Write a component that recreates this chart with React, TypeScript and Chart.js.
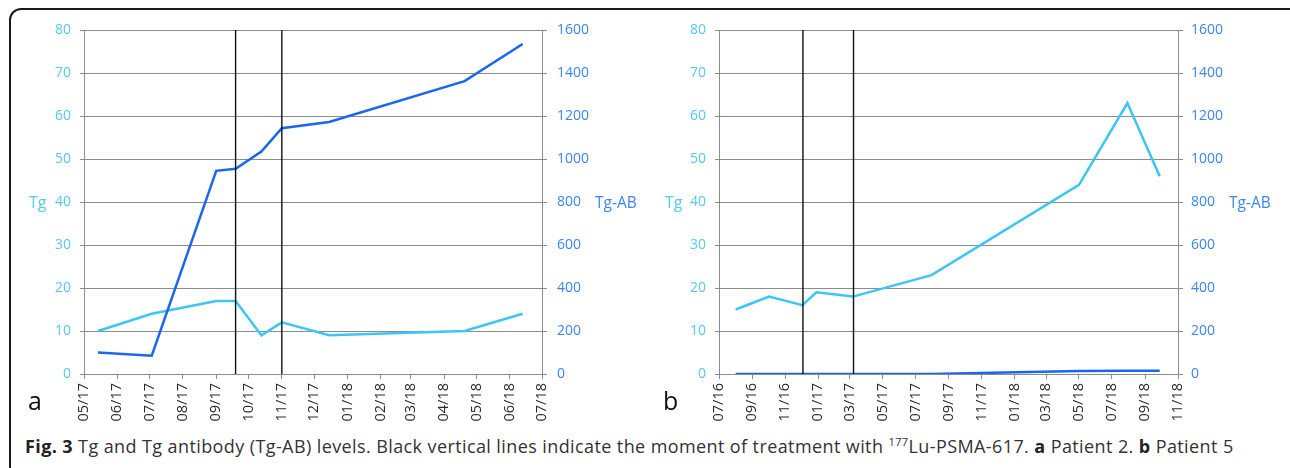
import React, { useEffect, useRef } from 'react';
import { Chart, registerables } from 'chart.js';

Chart.register(...registerables);

// ---------- Data: Patient 2 (panel a) ----------
const datesA = ['2017-05-14', '2017-07-03', '2017-09-01', '2017-09-19', '2017-10-13', '2017-11-01', '2017-12-15', '2018-04-20', '2018-06-13'];
const tgA = [10, 14, 17, 17, 9, 12, 9, 10, 14];
const tgabA = [100, 85, 945, 955, 1035, 1143, 1172, 1362, 1535];
const treatmentA = ['2017-09-19', '2017-11-01'];
const monthTicksA = ['2017-05', '2017-06', '2017-07', '2017-08', '2017-09', '2017-10', '2017-11', '2017-12', '2018-01', '2018-02', '2018-03', '2018-04', '2018-05', '2018-06', '2018-07'];

// ---------- Data: Patient 5 (panel b) ----------
const datesB = ['2016-08-01', '2016-10-02', '2016-12-03', '2016-12-29', '2017-03-07', '2017-07-31', '2018-05-01', '2018-07-30', '2018-09-28'];
const tgB = [15, 18, 16, 19, 18, 23, 44, 63, 46];
const tgabB = [0, 0, 0, 0, 0, 0, 14, 15, 15];
const treatmentB = ['2016-12-04', '2017-03-08'];
const monthTicksB = ['2016-07', '2016-09', '2016-11', '2017-01', '2017-03', '2017-05', '2017-07', '2017-09', '2017-11', '2018-01', '2018-03', '2018-05', '2018-07', '2018-09', '2018-11'];

const TG_COLOR = '#3cc6f4';
const TGAB_COLOR = '#1a66f0';
const TG_LABEL = '#55c9f6';
const TGAB_LABEL = '#3a86f5';
const GRID = '#8c8c8c';
const FONT = "'Open Sans', sans-serif";

function toDay(s: string): number {
  const p = s.split('-').map(Number);
  return Date.UTC(p[0], p[1] - 1, p[2] || 1) / 86400000;
}

function fmtTick(v: number): string {
  const d = new Date(v * 86400000);
  const mm = String(d.getUTCMonth() + 1).padStart(2, '0');
  const yy = String(d.getUTCFullYear() % 100).padStart(2, '0');
  return mm + '/' + yy;
}

interface Dims {
  leftW: number;
  rightW: number;
  top: number;
  xH: number;
  padR1: number;
}

function makeConfig(
  dates: string[],
  tg: number[],
  tgab: number[],
  treat: string[],
  months: string[],
  dims: Dims
): any {
  const tickVals = months.map(toDay);
  const treatSets = treat.map((t) => ({
    data: [
      { x: toDay(t), y: 0 },
      { x: toDay(t), y: 80 },
    ],
    borderColor: '#111111',
    borderWidth: 1.4,
    pointRadius: 0,
    yAxisID: 'y',
    order: 0,
  }));
  return {
    type: 'line',
    data: {
      datasets: [
        ...treatSets,
        {
          label: 'Tg',
          data: dates.map((d, i) => ({ x: toDay(d), y: tg[i] })),
          borderColor: TG_COLOR,
          borderWidth: 2.5,
          pointRadius: 0,
          tension: 0,
          yAxisID: 'y',
          order: 2,
        },
        {
          label: 'Tg-AB',
          data: dates.map((d, i) => ({ x: toDay(d), y: tgab[i] })),
          borderColor: TGAB_COLOR,
          borderWidth: 2.5,
          pointRadius: 0,
          tension: 0,
          yAxisID: 'y1',
          order: 1,
        },
      ],
    },
    options: {
      animation: false,
      responsive: false,
      events: [],
      layout: { padding: { top: dims.top, left: 0, right: 0, bottom: 0 } },
      plugins: { legend: { display: false }, tooltip: { enabled: false }, title: { display: false } },
      scales: {
        x: {
          type: 'linear',
          min: tickVals[0],
          max: tickVals[tickVals.length - 1],
          afterBuildTicks: (s: any) => {
            s.ticks = tickVals.map((v) => ({ value: v }));
          },
          afterFit: (s: any) => {
            s.height = dims.xH;
          },
          grid: { drawOnChartArea: false, drawTicks: true, tickLength: 5, color: GRID },
          border: { display: true, color: GRID },
          ticks: {
            autoSkip: false,
            maxRotation: 90,
            minRotation: 90,
            padding: 4,
            color: '#2a2a2a',
            font: { family: FONT, size: 14.5 },
            callback: (v: any) => fmtTick(Number(v)),
          },
        },
        y: {
          position: 'left',
          min: 0,
          max: 80,
          afterFit: (s: any) => {
            s.width = dims.leftW;
          },
          grid: { color: GRID, lineWidth: 1, drawTicks: true, tickLength: 4 },
          border: { display: true, color: GRID },
          ticks: {
            stepSize: 10,
            padding: 9,
            color: TG_LABEL,
            font: { family: FONT, size: 14 },
            callback: (v: any) => String(v),
          },
        },
        y1: {
          position: 'right',
          min: 0,
          max: 1600,
          afterFit: (s: any) => {
            s.width = dims.rightW;
          },
          grid: { drawOnChartArea: false, drawTicks: true, tickLength: 5, color: GRID },
          border: { display: true, color: GRID },
          ticks: {
            stepSize: 200,
            padding: dims.padR1,
            color: TGAB_LABEL,
            font: { family: FONT, size: 14 },
            callback: (v: any) => String(v),
          },
        },
      },
    },
  };
}

function ChartCanvas(props: { config: any; left: number; width: number; height: number }) {
  const ref = useRef<HTMLCanvasElement | null>(null);
  useEffect(() => {
    if (!ref.current) return;
    const c = new Chart(ref.current, props.config);
    return () => c.destroy();
  }, []);
  return (
    <canvas
      ref={ref}
      width={props.width}
      height={props.height}
      style={{ position: 'absolute', left: props.left, top: 0, width: props.width, height: props.height }}
    />
  );
}

const txt = (extra: React.CSSProperties): React.CSSProperties => ({
  position: 'absolute',
  fontFamily: FONT,
  whiteSpace: 'nowrap',
  ...extra,
});

export default function App() {
  const cfgA = makeConfig(datesA, tgA, tgabA, treatmentA, monthTicksA, {
    leftW: 84,
    rightW: 103,
    top: 30,
    xH: 56,
    padR1: 10,
  });
  const cfgB = makeConfig(datesB, tgB, tgabB, treatmentB, monthTicksB, {
    leftW: 74,
    rightW: 112,
    top: 30,
    xH: 56,
    padR1: 8,
  });
  return (
    <div style={{ position: 'absolute', left: 0, top: 0, width: 1290, height: 468, overflow: 'hidden', background: '#ffffff' }}>
      <div
        style={{
          position: 'absolute',
          left: 9,
          top: 8,
          width: 1300,
          height: 470,
          border: '2px solid #1a1a1a',
          borderRadius: 12,
          boxSizing: 'border-box',
        }}
      />
      <ChartCanvas config={cfgA} left={0} width={645} height={430} />
      <ChartCanvas config={cfgB} left={645} width={645} height={430} />
      <div style={txt({ left: 29, top: 194, fontSize: 16, lineHeight: '16px', color: TG_LABEL })}>Tg</div>
      <div style={txt({ left: 595, top: 195, fontSize: 15.5, lineHeight: '15px', color: TGAB_LABEL })}>Tg-AB</div>
      <div style={txt({ left: 665, top: 194, fontSize: 16, lineHeight: '16px', color: TG_LABEL })}>Tg</div>
      <div style={txt({ left: 1229, top: 195, fontSize: 15.5, lineHeight: '15px', color: TGAB_LABEL })}>Tg-AB</div>
      <div style={txt({ left: 28, top: 388, fontSize: 25, lineHeight: '25px', color: '#111' })}>a</div>
      <div style={txt({ left: 663, top: 388, fontSize: 25, lineHeight: '25px', color: '#111' })}>b</div>
      <div style={txt({ left: 25, top: 437, fontSize: 18, lineHeight: '18px', letterSpacing: '0.4px', color: '#333' })}>
        <b style={{ color: '#222' }}>Fig. 3</b> Tg and Tg antibody (Tg-AB) levels. Black vertical lines indicate the moment of treatment with{' '}
        <sup style={{ fontSize: 11, verticalAlign: 'top', position: 'relative', top: -4 }}>177</sup>Lu-PSMA-617. <b style={{ color: '#222' }}>a</b> Patient 2.{' '}
        <b style={{ color: '#222' }}>b</b> Patient 5
      </div>
    </div>
  );
}
